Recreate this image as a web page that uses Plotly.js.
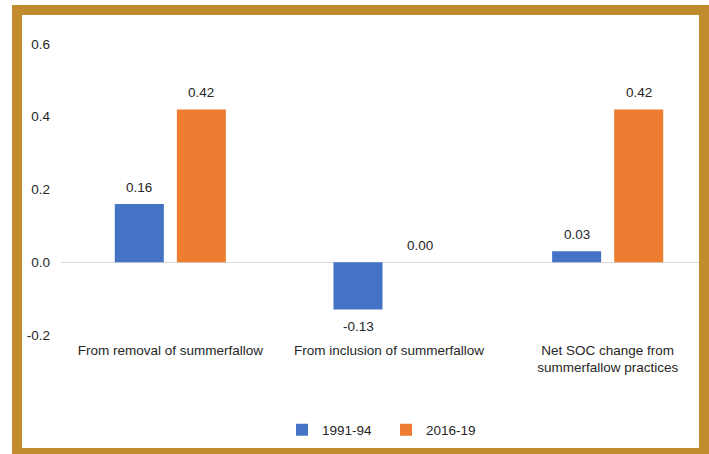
<!DOCTYPE html>
<html>
<head>
<meta charset="utf-8">
<script src="https://cdn.plot.ly/plotly-3.0.1.min.js"></script>
<style>
  html, body { margin: 0; padding: 0; background: #ffffff; overflow: hidden; width: 709px; height: 454px; }
  #chart { position: absolute; left: 0; top: 0; width: 720px; height: 454px; }
  #frame { position: absolute; left: 12px; top: 5px; width: 697px; height: 449px; box-sizing: border-box;
           border: 10px solid #C18C2D; border-bottom-width: 6px; pointer-events: none; }
</style>
</head>
<body>
<div id="chart"></div>
<div id="frame"></div>
<script>
const categories = ["From removal of summerfallow", "From inclusion of summerfallow", "Net SOC change from<br>summerfallow practices"];
const seriesNames = ["1991-94", "2016-19"];
const values1991 = [0.16, -0.13, 0.03];
const values2016 = [0.42, 0.00, 0.42];
const yTicks = [-0.2, 0.0, 0.2, 0.4, 0.6];

const colors = ["#4472C4", "#ED7D31"];
const font = "Liberation Sans, Arial, sans-serif";
const fs = 13.5;
const textColor = "#262626";

const allSeries = [values1991, values2016];
const traces = allSeries.map((vals, i) => ({
  type: "bar",
  name: seriesNames[i],
  x: categories,
  y: vals,
  marker: { color: colors[i] },
  hoverinfo: "none"
}));

const annotations = [];
const offsets = [-31, 31];
allSeries.forEach((vals, i) => {
  vals.forEach((v, j) => {
    annotations.push({
      x: categories[j], y: v, xref: "x", yref: "y",
      text: v.toFixed(2), showarrow: false,
      xshift: offsets[i],
      yanchor: v < 0 ? "top" : "bottom",
      yshift: v < 0 ? -7 : 7,
      font: { family: font, size: fs, color: textColor }
    });
  });
});

const layout = {
  width: 720, height: 454,
  margin: { l: 61, r: 3, t: 44, b: 119 },
  paper_bgcolor: "rgba(0,0,0,0)",
  plot_bgcolor: "rgba(0,0,0,0)",
  barmode: "group",
  bargap: 0.4325,
  bargroupgap: 0.21,
  font: { family: font, size: fs, color: textColor },
  xaxis: {
    type: "category",
    showgrid: false, showline: false, zeroline: false,
    ticks: "", ticklabelstandoff: 5,
    tickfont: { family: font, size: fs, color: textColor },
    fixedrange: true
  },
  yaxis: {
    range: [-0.2, 0.6],
    tickvals: yTicks,
    ticktext: yTicks.map(v => v.toFixed(1)),
    showgrid: false, showline: false,
    zeroline: true, zerolinecolor: "#D9D9D9", zerolinewidth: 1,
    ticks: "", ticklabelstandoff: 10,
    tickfont: { family: font, size: fs, color: textColor },
    fixedrange: true
  },
  showlegend: true,
  legend: {
    orientation: "h", x: 0.4954, xanchor: "center", y: -0.326, yanchor: "middle",
    font: { family: font, size: fs, color: textColor },
    itemwidth: 30, entrywidth: 59, entrywidthmode: "pixels",
    bgcolor: "rgba(0,0,0,0)"
  },
  annotations: annotations
};

Plotly.newPlot("chart", traces, layout, { displayModeBar: false, staticPlot: true });
</script>
</body>
</html>
